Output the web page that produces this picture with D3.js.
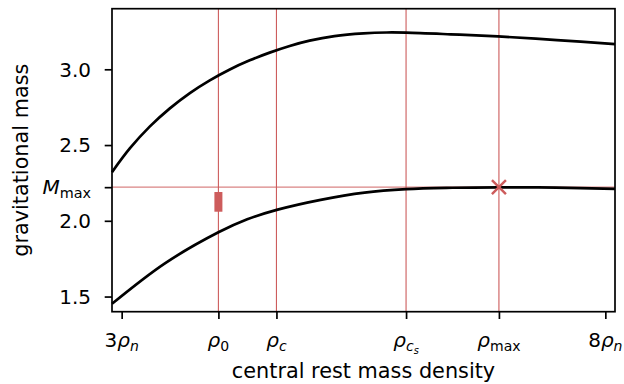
<!DOCTYPE html>
<html><head><meta charset="utf-8">
<script src="https://cdn.jsdelivr.net/npm/d3@7"></script>
<style>
html,body{margin:0;padding:0;background:#fff;}
text{font-family:"DejaVu Sans",sans-serif;}
</style></head>
<body>
<script>
// ---- data ----
const densityUpper = [2.9, 3.086, 3.292, 3.498, 3.705, 3.911, 4.118, 4.324, 4.53, 4.737, 4.943, 5.2, 5.5, 5.74, 5.94, 6.4, 6.89, 7.5, 8.1];
const massUpper = [2.321, 2.479, 2.623, 2.742, 2.843, 2.927, 2.999, 3.059, 3.11, 3.154, 3.189, 3.219, 3.237, 3.243, 3.242, 3.231, 3.217, 3.193, 3.166];
const densityLower = [2.9, 3.447, 4.0, 4.298, 4.603, 5.057, 5.511, 5.944, 6.419, 6.894, 7.492, 8.1];
const massLower = [1.452, 1.719, 1.924, 2.01, 2.072, 2.1385, 2.186, 2.209, 2.218, 2.221, 2.219, 2.211];
const xTickValues = [3, 4.0, 4.6, 5.94, 6.9, 8];
const xTickNames = ["3rho_n", "rho_0", "rho_c", "rho_cs", "rho_max", "8rho_n"];
const yTickValues = [1.5, 2.0, 2.5, 3.0];
const yTickLabels = ["1.5", "2.0", "2.5", "3.0"];
const vLines = [4.0, 4.6, 5.94, 6.9];
const Mmax = 2.222;
const rhoMax = 6.9;
const measurement = {x: 4.0, lo: 2.06, hi: 2.19};

// ---- layout ----
const W = 624, H = 384;
const m = {left: 112, right: 9, top: 8.7, bottom: 72.3};
const red = "#cd5c5c";
const svg = d3.select("body").append("svg").attr("width", W).attr("height", H);
const x = d3.scaleLinear().domain([2.9, 8.1]).range([m.left, W - m.right]);
const y = d3.scaleLinear().domain([1.40, 3.40]).range([H - m.bottom, m.top]);

// reference lines
svg.append("g").selectAll("line").data(vLines).join("line")
  .attr("x1", d => x(d)).attr("x2", d => x(d))
  .attr("y1", y.range()[0]).attr("y2", y.range()[1])
  .attr("stroke", red).attr("stroke-width", 1.1);
svg.append("line").attr("x1", x.range()[0]).attr("x2", x.range()[1])
  .attr("y1", y(Mmax)).attr("y2", y(Mmax))
  .attr("stroke", red).attr("stroke-opacity", 0.75).attr("stroke-width", 1.1);

// measurement bar
svg.append("rect").attr("x", x(measurement.x) - 4).attr("width", 8)
  .attr("y", y(measurement.hi)).attr("height", y(measurement.lo) - y(measurement.hi))
  .attr("fill", red);

// curves
const line = d3.line().x(d => x(d[0])).y(d => y(d[1])).curve(d3.curveCatmullRom.alpha(0.5));
[[densityUpper, massUpper], [densityLower, massLower]].forEach(([xs, s]) => {
  svg.append("path").datum(xs.map((d, i) => [d, s[i]]))
    .attr("d", line).attr("fill", "none").attr("stroke", "#000").attr("stroke-width", 2.7);
});

// marker X
const mx = x(rhoMax), my = y(Mmax), r = 7;
svg.append("path").attr("d", `M${mx-r},${my-r}L${mx+r},${my+r}M${mx-r},${my+r}L${mx+r},${my-r}`)
  .attr("stroke", red).attr("stroke-width", 2.5).attr("fill", "none");

// axes
const fs = 20;
const yAxis = d3.axisLeft(y).tickValues(yTickValues.concat([Mmax])).tickSize(7.3).tickFormat(() => "");
const gy = svg.append("g").attr("transform", `translate(${m.left},0)`).call(yAxis);
const xAxis = d3.axisBottom(x).tickValues(xTickValues).tickSize(7.3).tickFormat(() => "");
const gx = svg.append("g").attr("transform", `translate(0,${H - m.bottom})`).call(xAxis);
[gx, gy].forEach(g => {
  g.select(".domain").remove();
  g.selectAll(".tick line").attr("stroke", "#000").attr("stroke-width", 1.7);
});

// frame
svg.append("rect").attr("x", m.left).attr("y", m.top)
  .attr("width", W - m.right - m.left).attr("height", H - m.bottom - m.top)
  .attr("fill", "none").attr("stroke", "#000").attr("stroke-width", 1.7);

// y tick labels
yTickValues.forEach((v, i) => {
  svg.append("text").attr("x", 91).attr("y", y(v)).attr("dy", "0.36em")
    .attr("text-anchor", "end").attr("font-size", fs).attr("fill", "#000").text(yTickLabels[i]);
});
const mt = svg.append("text").attr("x", 91).attr("y", y(Mmax)).attr("dy", "0.36em")
  .attr("text-anchor", "end").attr("font-size", fs).attr("fill", "#000");
mt.append("tspan").attr("font-style", "italic").text("M");
mt.append("tspan").attr("font-size", fs * 0.72).attr("dy", 4).text("max");

// x tick labels (mathtext style)
const sub = fs * 0.7;
function xlabel(v, kind) {
  const t = svg.append("text").attr("x", x(v)).attr("y", 346.5)
    .attr("text-anchor", "middle").attr("font-size", fs).attr("fill", "#000");
  const rho = () => t.append("tspan").attr("font-style", "italic").text("ρ");
  if (kind === "3rho_n" || kind === "8rho_n") {
    t.append("tspan").text(kind[0]);
    rho();
    t.append("tspan").attr("font-style", "italic").attr("font-size", sub).attr("dy", 4).text("n");
  } else if (kind === "rho_0") {
    rho();
    t.append("tspan").attr("font-size", sub).attr("dy", 4).text("0");
  } else if (kind === "rho_c") {
    rho();
    t.append("tspan").attr("font-style", "italic").attr("font-size", sub).attr("dy", 4).text("c");
  } else if (kind === "rho_cs") {
    rho();
    t.append("tspan").attr("font-style", "italic").attr("font-size", sub).attr("dy", 4).text("c");
    t.append("tspan").attr("font-style", "italic").attr("font-size", sub * 0.7).attr("dy", 3).text("s");
  } else if (kind === "rho_max") {
    rho();
    t.append("tspan").attr("font-size", sub).attr("dy", 4).text("max");
  }
}
xTickValues.forEach((v, i) => xlabel(v, xTickNames[i]));

// axis labels
svg.append("text").attr("x", (m.left + W - m.right) / 2).attr("y", 378.3)
  .attr("text-anchor", "middle").attr("font-size", 20.8).attr("fill", "#000")
  .text("central rest mass density");
svg.append("text").attr("transform", `translate(28.3,${(m.top + H - m.bottom) / 2}) rotate(-90)`)
  .attr("text-anchor", "middle").attr("font-size", 20.8).attr("fill", "#000")
  .text("gravitational mass");
</script>
</body></html>
